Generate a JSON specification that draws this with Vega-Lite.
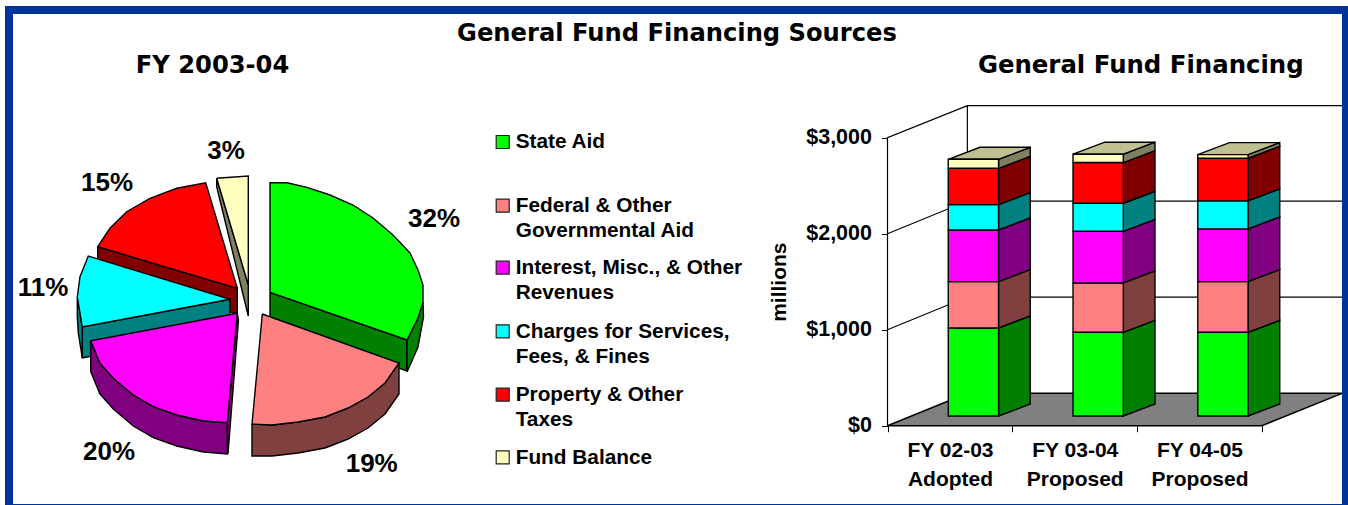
{"$schema":"https://vega.github.io/schema/vega-lite/v6.json","padding":0,"spacing":0,"bounds":"flush","background":"white","config":{"view":{"stroke":null},"text":{"font":"Liberation Sans","fontWeight":"bold","color":"black"}},
"datasets":{
"frame":[{"u":-2.43,"u2":-2.35,"v":-2.05,"v2":2.94},{"u":-2.43,"u2":11,"v":2.86,"v2":2.94},{"u":10.94,"u2":11,"v":-2.05,"v2":2.94},{"u":-2.35,"u2":11,"v":-2.05,"v2":-2.04}],
"pie":[
{"f":"fs","p":"Fund Balance side","i":0,"u":-0.313,"v":1.217},{"f":"fs","p":"Fund Balance side","i":1,"u":0.003,"v":0.15},{"f":"fs","p":"Fund Balance side","i":2,"u":0.003,"v":-0.16},{"f":"fs","p":"Fund Balance side","i":3,"u":-0.313,"v":1.13},{"f":"fs","p":"Fund Balance side","i":4,"u":-0.313,"v":1.217},
{"f":"ft","p":"Fund Balance","i":0,"u":-0.313,"v":1.217},{"f":"ft","p":"Fund Balance","i":1,"u":0.003,"v":1.24},{"f":"ft","p":"Fund Balance","i":2,"u":0.003,"v":0.15},{"f":"ft","p":"Fund Balance","i":3,"u":-0.313,"v":1.217},
{"f":"rs","p":"Property & Other Taxes side","i":0,"u":-1.503,"v":0.533},{"f":"rs","p":"Property & Other Taxes side","i":1,"u":-0.107,"v":0.117},{"f":"rs","p":"Property & Other Taxes side","i":2,"u":-0.107,"v":-0.14},{"f":"rs","p":"Property & Other Taxes side","i":3,"u":-1.503,"v":0.28},{"f":"rs","p":"Property & Other Taxes side","i":4,"u":-1.503,"v":0.533},
{"f":"rt","p":"Property & Other Taxes","i":0,"u":-0.107,"v":0.117},{"f":"rt","p":"Property & Other Taxes","i":1,"u":-0.423,"v":1.173},{"f":"rt","p":"Property & Other Taxes","i":2,"u":-0.713,"v":1.117},{"f":"rt","p":"Property & Other Taxes","i":3,"u":-0.98,"v":1.017},{"f":"rt","p":"Property & Other Taxes","i":4,"u":-1.213,"v":0.883},{"f":"rt","p":"Property & Other Taxes","i":5,"u":-1.38,"v":0.717},{"f":"rt","p":"Property & Other Taxes","i":6,"u":-1.503,"v":0.533},{"f":"rt","p":"Property & Other Taxes","i":7,"u":-0.107,"v":0.117},
{"f":"gs","p":"State Aid side","i":0,"u":0.22,"v":0.077},{"f":"gs","p":"State Aid side","i":1,"u":1.59,"v":-0.4},{"f":"gs","p":"State Aid side","i":2,"u":1.59,"v":-0.71},{"f":"gs","p":"State Aid side","i":3,"u":0.22,"v":-0.23},{"f":"gs","p":"State Aid side","i":4,"u":0.22,"v":0.077},
{"f":"go","p":"State Aid side","i":0,"u":1.59,"v":-0.4},{"f":"go","p":"State Aid side","i":1,"u":1.7,"v":-0.18},{"f":"go","p":"State Aid side","i":2,"u":1.75,"v":-0.02},{"f":"go","p":"State Aid side","i":3,"u":1.755,"v":-0.17},{"f":"go","p":"State Aid side","i":4,"u":1.7,"v":-0.47},{"f":"go","p":"State Aid side","i":5,"u":1.59,"v":-0.72},{"f":"go","p":"State Aid side","i":6,"u":1.59,"v":-0.4},
{"f":"gt","p":"State Aid","i":0,"u":0.22,"v":0.077},{"f":"gt","p":"State Aid","i":1,"u":0.22,"v":1.173},{"f":"gt","p":"State Aid","i":2,"u":0.39,"v":1.173},{"f":"gt","p":"State Aid","i":3,"u":0.59,"v":1.127},{"f":"gt","p":"State Aid","i":4,"u":0.82,"v":1.05},{"f":"gt","p":"State Aid","i":5,"u":1.05,"v":0.95},{"f":"gt","p":"State Aid","i":6,"u":1.25,"v":0.82},{"f":"gt","p":"State Aid","i":7,"u":1.45,"v":0.65},{"f":"gt","p":"State Aid","i":8,"u":1.62,"v":0.47},{"f":"gt","p":"State Aid","i":9,"u":1.7,"v":0.3},{"f":"gt","p":"State Aid","i":10,"u":1.75,"v":0.15},{"f":"gt","p":"State Aid","i":11,"u":1.75,"v":-0.02},{"f":"gt","p":"State Aid","i":12,"u":1.7,"v":-0.18},{"f":"gt","p":"State Aid","i":13,"u":1.59,"v":-0.4},{"f":"gt","p":"State Aid","i":14,"u":0.22,"v":0.077},
{"f":"cs","p":"Charges side","i":0,"u":-1.657,"v":-0.267},{"f":"cs","p":"Charges side","i":1,"u":-0.18,"v":0.007},{"f":"cs","p":"Charges side","i":2,"u":-0.18,"v":-0.31},{"f":"cs","p":"Charges side","i":3,"u":-1.657,"v":-0.58},{"f":"cs","p":"Charges side","i":4,"u":-1.657,"v":-0.267},
{"f":"co","p":"Charges side","i":0,"u":-1.707,"v":0.03},{"f":"co","p":"Charges side","i":1,"u":-1.657,"v":-0.27},{"f":"co","p":"Charges side","i":2,"u":-1.657,"v":-0.58},{"f":"co","p":"Charges side","i":3,"u":-1.697,"v":-0.33},{"f":"co","p":"Charges side","i":4,"u":-1.707,"v":-0.17},{"f":"co","p":"Charges side","i":5,"u":-1.707,"v":0.03},
{"f":"ct","p":"Charges","i":0,"u":-0.18,"v":0.007},{"f":"ct","p":"Charges","i":1,"u":-1.597,"v":0.44},{"f":"ct","p":"Charges","i":2,"u":-1.68,"v":0.233},{"f":"ct","p":"Charges","i":3,"u":-1.707,"v":0.03},{"f":"ct","p":"Charges","i":4,"u":-1.657,"v":-0.27},{"f":"ct","p":"Charges","i":5,"u":-0.18,"v":0.007},
{"f":"ms","p":"Interest side","i":0,"u":-1.573,"v":-0.407},{"f":"ms","p":"Interest side","i":1,"u":-1.48,"v":-0.633},{"f":"ms","p":"Interest side","i":2,"u":-1.347,"v":-0.783},{"f":"ms","p":"Interest side","i":3,"u":-1.147,"v":-0.95},{"f":"ms","p":"Interest side","i":4,"u":-0.947,"v":-1.067},{"f":"ms","p":"Interest side","i":5,"u":-0.713,"v":-1.15},{"f":"ms","p":"Interest side","i":6,"u":-0.447,"v":-1.21},{"f":"ms","p":"Interest side","i":7,"u":-0.207,"v":-1.227},{"f":"ms","p":"Interest side","i":8,"u":-0.207,"v":-1.54},{"f":"ms","p":"Interest side","i":9,"u":-0.447,"v":-1.52},{"f":"ms","p":"Interest side","i":10,"u":-0.713,"v":-1.46},{"f":"ms","p":"Interest side","i":11,"u":-0.947,"v":-1.377},{"f":"ms","p":"Interest side","i":12,"u":-1.147,"v":-1.26},{"f":"ms","p":"Interest side","i":13,"u":-1.347,"v":-1.09},{"f":"ms","p":"Interest side","i":14,"u":-1.48,"v":-0.94},{"f":"ms","p":"Interest side","i":15,"u":-1.573,"v":-0.717},{"f":"ms","p":"Interest side","i":16,"u":-1.573,"v":-0.407},
{"f":"mi","p":"Interest side","i":0,"u":-0.107,"v":-0.133},{"f":"mi","p":"Interest side","i":1,"u":-0.095,"v":-0.2},{"f":"mi","p":"Interest side","i":2,"u":-0.2,"v":-1.54},{"f":"mi","p":"Interest side","i":3,"u":-0.207,"v":-1.227},{"f":"mi","p":"Interest side","i":4,"u":-0.107,"v":-0.133},
{"f":"mt","p":"Interest","i":0,"u":-0.107,"v":-0.133},{"f":"mt","p":"Interest","i":1,"u":-1.573,"v":-0.407},{"f":"mt","p":"Interest","i":2,"u":-1.48,"v":-0.633},{"f":"mt","p":"Interest","i":3,"u":-1.347,"v":-0.783},{"f":"mt","p":"Interest","i":4,"u":-1.147,"v":-0.95},{"f":"mt","p":"Interest","i":5,"u":-0.947,"v":-1.067},{"f":"mt","p":"Interest","i":6,"u":-0.713,"v":-1.15},{"f":"mt","p":"Interest","i":7,"u":-0.447,"v":-1.21},{"f":"mt","p":"Interest","i":8,"u":-0.207,"v":-1.227},{"f":"mt","p":"Interest","i":9,"u":-0.107,"v":-0.133},
{"f":"ps","p":"Federal side","i":0,"u":0.04,"v":-1.24},{"f":"ps","p":"Federal side","i":1,"u":0.24,"v":-1.25},{"f":"ps","p":"Federal side","i":2,"u":0.5,"v":-1.22},{"f":"ps","p":"Federal side","i":3,"u":0.77,"v":-1.17},{"f":"ps","p":"Federal side","i":4,"u":1,"v":-1.08},{"f":"ps","p":"Federal side","i":5,"u":1.2,"v":-0.97},{"f":"ps","p":"Federal side","i":6,"u":1.37,"v":-0.83},{"f":"ps","p":"Federal side","i":7,"u":1.51,"v":-0.63},{"f":"ps","p":"Federal side","i":8,"u":1.51,"v":-0.94},{"f":"ps","p":"Federal side","i":9,"u":1.37,"v":-1.14},{"f":"ps","p":"Federal side","i":10,"u":1.2,"v":-1.28},{"f":"ps","p":"Federal side","i":11,"u":1,"v":-1.39},{"f":"ps","p":"Federal side","i":12,"u":0.77,"v":-1.48},{"f":"ps","p":"Federal side","i":13,"u":0.5,"v":-1.53},{"f":"ps","p":"Federal side","i":14,"u":0.24,"v":-1.56},{"f":"ps","p":"Federal side","i":15,"u":0.04,"v":-1.56},{"f":"ps","p":"Federal side","i":16,"u":0.04,"v":-1.24},
{"f":"pt","p":"Federal","i":0,"u":0.143,"v":-0.14},{"f":"pt","p":"Federal","i":1,"u":1.51,"v":-0.63},{"f":"pt","p":"Federal","i":2,"u":1.37,"v":-0.83},{"f":"pt","p":"Federal","i":3,"u":1.2,"v":-0.97},{"f":"pt","p":"Federal","i":4,"u":1,"v":-1.08},{"f":"pt","p":"Federal","i":5,"u":0.77,"v":-1.17},{"f":"pt","p":"Federal","i":6,"u":0.5,"v":-1.22},{"f":"pt","p":"Federal","i":7,"u":0.24,"v":-1.25},{"f":"pt","p":"Federal","i":8,"u":0.04,"v":-1.24},{"f":"pt","p":"Federal","i":9,"u":0.143,"v":-0.14}
],
"share":[{"t":"32%","u":1.86,"v":0.81},{"t":"19%","u":1.237,"v":-1.64},{"t":"20%","u":-1.39,"v":-1.52},{"t":"11%","u":-2.05,"v":0.12},{"t":"15%","u":-1.41,"v":1.17},{"t":"3%","u":-0.22,"v":1.493}],
"swatch":[{"p":"State Aid","u":2.547,"v":1.58},{"p":"Federal","u":2.547,"v":0.943},{"p":"Interest","u":2.547,"v":0.323},{"p":"Charges","u":2.547,"v":-0.313},{"p":"Property & Other Taxes","u":2.547,"v":-0.947},{"p":"Fund Balance","u":2.547,"v":-1.573}],
"legendText":[{"t":"State Aid","u":2.677,"v":1.517},{"t":"Federal & Other\nGovernmental Aid","u":2.677,"v":0.877},{"t":"Interest, Misc., & Other\nRevenues","u":2.677,"v":0.26},{"t":"Charges for Services,\nFees, & Fines","u":2.677,"v":-0.375},{"t":"Property & Other\nTaxes","u":2.677,"v":-1.01},{"t":"Fund Balance","u":2.677,"v":-1.64}],
"walls":[
{"l":"a","i":0,"x":0,"y":0},{"l":"a","i":1,"x":0,"y":3000},{"l":"a","i":2,"x":0.64,"y":3334},{"l":"a","i":3,"x":3.643,"y":3334},
{"l":"b","i":0,"x":0.64,"y":3334},{"l":"b","i":1,"x":0.64,"y":337},
{"l":"c","i":0,"x":0,"y":2000},{"l":"c","i":1,"x":0.64,"y":2340},{"l":"c","i":2,"x":3.643,"y":2340},
{"l":"d","i":0,"x":0,"y":1000},{"l":"d","i":1,"x":0.64,"y":1340},{"l":"d","i":2,"x":3.643,"y":1340}],
"floor":[{"x":0,"y":0,"y2":0},{"x":0.64,"y":0,"y2":337},{"x":3,"y":0,"y2":337},{"x":3.643,"y":337,"y2":337}],
"bars":[
{"year":"FY 02-03","source":"State Aid","rank":1,"value":917,"x":0.487,"x2":0.89},{"year":"FY 02-03","source":"Federal","rank":2,"value":483,"x":0.487,"x2":0.89},{"year":"FY 02-03","source":"Interest","rank":3,"value":538,"x":0.487,"x2":0.89},{"year":"FY 02-03","source":"Charges","rank":4,"value":264,"x":0.487,"x2":0.89},{"year":"FY 02-03","source":"Property & Other Taxes","rank":5,"value":378,"x":0.487,"x2":0.89},{"year":"FY 02-03","source":"Fund Balance","rank":6,"value":94,"x":0.487,"x2":0.89},
{"year":"FY 03-04","source":"State Aid","rank":1,"value":872,"x":1.487,"x2":1.89},{"year":"FY 03-04","source":"Federal","rank":2,"value":514,"x":1.487,"x2":1.89},{"year":"FY 03-04","source":"Interest","rank":3,"value":538,"x":1.487,"x2":1.89},{"year":"FY 03-04","source":"Charges","rank":4,"value":292,"x":1.487,"x2":1.89},{"year":"FY 03-04","source":"Property & Other Taxes","rank":5,"value":424,"x":1.487,"x2":1.89},{"year":"FY 03-04","source":"Fund Balance","rank":6,"value":87,"x":1.487,"x2":1.89},
{"year":"FY 04-05","source":"State Aid","rank":1,"value":872,"x":2.487,"x2":2.89},{"year":"FY 04-05","source":"Federal","rank":2,"value":528,"x":2.487,"x2":2.89},{"year":"FY 04-05","source":"Interest","rank":3,"value":549,"x":2.487,"x2":2.89},{"year":"FY 04-05","source":"Charges","rank":4,"value":292,"x":2.487,"x2":2.89},{"year":"FY 04-05","source":"Property & Other Taxes","rank":5,"value":444,"x":2.487,"x2":2.89},{"year":"FY 04-05","source":"Fund Balance","rank":6,"value":38,"x":2.487,"x2":2.89}],
"sides":[
{"b":"1","p":"State Aid side","x":0.89,"y":101,"y2":1018},{"b":"1","p":"State Aid side","x":1.144,"y":226,"y2":1143},
{"b":"1","p":"Federal side","x":0.89,"y":1018,"y2":1501},{"b":"1","p":"Federal side","x":1.144,"y":1143,"y2":1626},
{"b":"1","p":"Interest side","x":0.89,"y":1501,"y2":2039},{"b":"1","p":"Interest side","x":1.144,"y":1626,"y2":2164},
{"b":"1","p":"Charges side","x":0.89,"y":2039,"y2":2303},{"b":"1","p":"Charges side","x":1.144,"y":2164,"y2":2428},
{"b":"1","p":"Property & Other Taxes side","x":0.89,"y":2303,"y2":2681},{"b":"1","p":"Property & Other Taxes side","x":1.144,"y":2428,"y2":2806},
{"b":"1","p":"Fund Balance side","x":0.89,"y":2681,"y2":2775},{"b":"1","p":"Fund Balance side","x":1.144,"y":2806,"y2":2900},
{"b":"2","p":"State Aid side","x":1.89,"y":101,"y2":973},{"b":"2","p":"State Aid side","x":2.144,"y":226,"y2":1098},
{"b":"2","p":"Federal side","x":1.89,"y":973,"y2":1487},{"b":"2","p":"Federal side","x":2.144,"y":1098,"y2":1612},
{"b":"2","p":"Interest side","x":1.89,"y":1487,"y2":2025},{"b":"2","p":"Interest side","x":2.144,"y":1612,"y2":2150},
{"b":"2","p":"Charges side","x":1.89,"y":2025,"y2":2317},{"b":"2","p":"Charges side","x":2.144,"y":2150,"y2":2442},
{"b":"2","p":"Property & Other Taxes side","x":1.89,"y":2317,"y2":2741},{"b":"2","p":"Property & Other Taxes side","x":2.144,"y":2442,"y2":2866},
{"b":"2","p":"Fund Balance side","x":1.89,"y":2741,"y2":2828},{"b":"2","p":"Fund Balance side","x":2.144,"y":2866,"y2":2953},
{"b":"3","p":"State Aid side","x":2.89,"y":101,"y2":973},{"b":"3","p":"State Aid side","x":3.144,"y":226,"y2":1098},
{"b":"3","p":"Federal side","x":2.89,"y":973,"y2":1501},{"b":"3","p":"Federal side","x":3.144,"y":1098,"y2":1626},
{"b":"3","p":"Interest side","x":2.89,"y":1501,"y2":2050},{"b":"3","p":"Interest side","x":3.144,"y":1626,"y2":2175},
{"b":"3","p":"Charges side","x":2.89,"y":2050,"y2":2342},{"b":"3","p":"Charges side","x":3.144,"y":2175,"y2":2467},
{"b":"3","p":"Property & Other Taxes side","x":2.89,"y":2342,"y2":2786},{"b":"3","p":"Property & Other Taxes side","x":3.144,"y":2467,"y2":2911},
{"b":"3","p":"Fund Balance side","x":2.89,"y":2786,"y2":2824},{"b":"3","p":"Fund Balance side","x":3.144,"y":2911,"y2":2949},
{"b":"1","p":"Top","x":0.487,"y":2775,"y2":2775},{"b":"1","p":"Top","x":0.741,"y":2775,"y2":2900},{"b":"1","p":"Top","x":0.89,"y":2775,"y2":2900},{"b":"1","p":"Top","x":1.144,"y":2900,"y2":2900},
{"b":"2","p":"Top","x":1.487,"y":2828,"y2":2828},{"b":"2","p":"Top","x":1.741,"y":2828,"y2":2953},{"b":"2","p":"Top","x":1.89,"y":2828,"y2":2953},{"b":"2","p":"Top","x":2.144,"y":2953,"y2":2953},
{"b":"3","p":"Top","x":2.487,"y":2824,"y2":2824},{"b":"3","p":"Top","x":2.741,"y":2824,"y2":2949},{"b":"3","p":"Top","x":2.89,"y":2824,"y2":2949},{"b":"3","p":"Top","x":3.144,"y":2949,"y2":2949}],
"cats":[{"t":"FY 02-03\nAdopted","x":0.505,"y":-326},{"t":"FY 03-04\nProposed","x":1.505,"y":-326},{"t":"FY 04-05\nProposed","x":2.505,"y":-326}]
},
"hconcat":[
{"width":760,"height":505,
"encoding":{"x":{"field":"u","type":"quantitative","scale":{"domain":[-2.48,5.12],"nice":false,"zero":false},"axis":null},"y":{"field":"v","type":"quantitative","scale":{"domain":[-2.05,3],"nice":false,"zero":false},"axis":null}},
"layer":[
{"data":{"name":"pie"},"mark":{"type":"line","filled":true,"stroke":"black","strokeWidth":1.4,"strokeJoin":"miter"},"encoding":{"detail":{"field":"f"},"order":{"field":"i","type":"quantitative"},"color":{"field":"p","type":"nominal","legend":null,"scale":{"domain":["State Aid","Federal","Interest","Charges","Property & Other Taxes","Fund Balance","State Aid side","Federal side","Interest side","Charges side","Property & Other Taxes side","Fund Balance side"],"range":["#00FF00","#FF8080","#FF00FF","#00FFFF","#FF0000","#FFFFC0","#007F00","#804040","#800080","#008080","#800000","#808060"]}}}},
{"data":{"name":"swatch"},"mark":{"type":"point","shape":"square","filled":true,"size":169,"stroke":"#222222","strokeWidth":1.2,"opacity":1},"encoding":{"color":{"field":"p","type":"nominal","legend":null}}},
{"data":{"name":"legendText"},"mark":{"type":"text","align":"left","baseline":"alphabetic","fontSize":20.8,"lineBreak":"\n","lineHeight":25},"encoding":{"text":{"field":"t"}}},
{"data":{"name":"share"},"mark":{"type":"text","align":"center","baseline":"middle","fontSize":26},"encoding":{"text":{"field":"t"}}},
{"data":{"values":[{"t":"General Fund Financing Sources","u":4.29,"v":2.66},{"t":"FY 2003-04","u":-0.355,"v":2.34}]},"mark":{"type":"text","align":"center","baseline":"middle","font":"DejaVu Sans","fontSize":24.2},"encoding":{"text":{"field":"t"}}},
{"data":{"name":"frame"},"mark":{"type":"rect","fill":"#003399"},"encoding":{"x2":{"field":"u2"},"y2":{"field":"v2"}}}
]},
{"width":588,"height":505,
"encoding":{"x":{"field":"x","type":"quantitative","scale":{"domain":[-1.022,3.691],"nice":false,"zero":false},"axis":{"values":[0,1,2,3],"offset":-79.3,"domain":false,"labels":false,"grid":false,"title":null,"tickColor":"black","tickSize":6,"orient":"bottom"}},"y":{"field":"y","type":"quantitative","scale":{"domain":[-826,4434.4],"nice":false,"zero":false},"axis":{"values":[0,1000,2000,3000],"offset":-127.5,"domain":false,"grid":false,"format":"$,.0f","tickColor":"black","tickSize":6,"labelPadding":10,"labelFont":"Liberation Sans","labelFontWeight":"bold","labelFontSize":21.5,"labelColor":"black","title":"millions","titleFont":"Liberation Sans","titleFontWeight":"bold","titleFontSize":21,"titleColor":"black","titleX":-108,"titleY":281.7,"titleBaseline":"middle","orient":"left"}}},
"layer":[
{"data":{"name":"walls"},"mark":{"type":"line","color":"black","strokeWidth":1.2},"encoding":{"detail":{"field":"l"},"order":{"field":"i","type":"quantitative"}}},
{"data":{"name":"floor"},"mark":{"type":"area","fill":"#808080","stroke":"black","strokeWidth":1.5},"encoding":{"y2":{"field":"y2"}}},
{"data":{"name":"sides"},"mark":{"type":"area","stroke":"black","strokeWidth":1.4,"opacity":1},"encoding":{"y2":{"field":"y2"},"detail":{"field":"b"},"color":{"field":"p","type":"nominal","legend":null,"scale":{"domain":["State Aid","Federal","Interest","Charges","Property & Other Taxes","Fund Balance","State Aid side","Federal side","Interest side","Charges side","Property & Other Taxes side","Fund Balance side","Top"],"range":["#00FF00","#FF8080","#FF00FF","#00FFFF","#FF0000","#FFFFC0","#007F00","#804040","#800080","#008080","#800000","#808060","#C0C090"]}}}},
{"data":{"name":"bars"},"transform":[{"stack":"value","groupby":["year"],"sort":[{"field":"rank","order":"ascending"}],"as":["y","y2"]}],"mark":{"type":"rect","stroke":"black","strokeWidth":1.4,"yOffset":-9.7,"y2Offset":-9.7},"encoding":{"x2":{"field":"x2"},"y2":{"field":"y2"},"color":{"field":"source","type":"nominal","legend":null}}},
{"data":{"name":"cats"},"mark":{"type":"text","align":"center","baseline":"alphabetic","fontSize":21,"lineBreak":"\n","lineHeight":29},"encoding":{"text":{"field":"t"}}},
{"data":{"values":[{"t":"General Fund Financing","x":2.03,"y":3748}]},"mark":{"type":"text","align":"center","baseline":"middle","font":"DejaVu Sans","fontSize":24.4},"encoding":{"text":{"field":"t"}}}
]}
],"resolve":{"scale":{"color":"independent"}}}
